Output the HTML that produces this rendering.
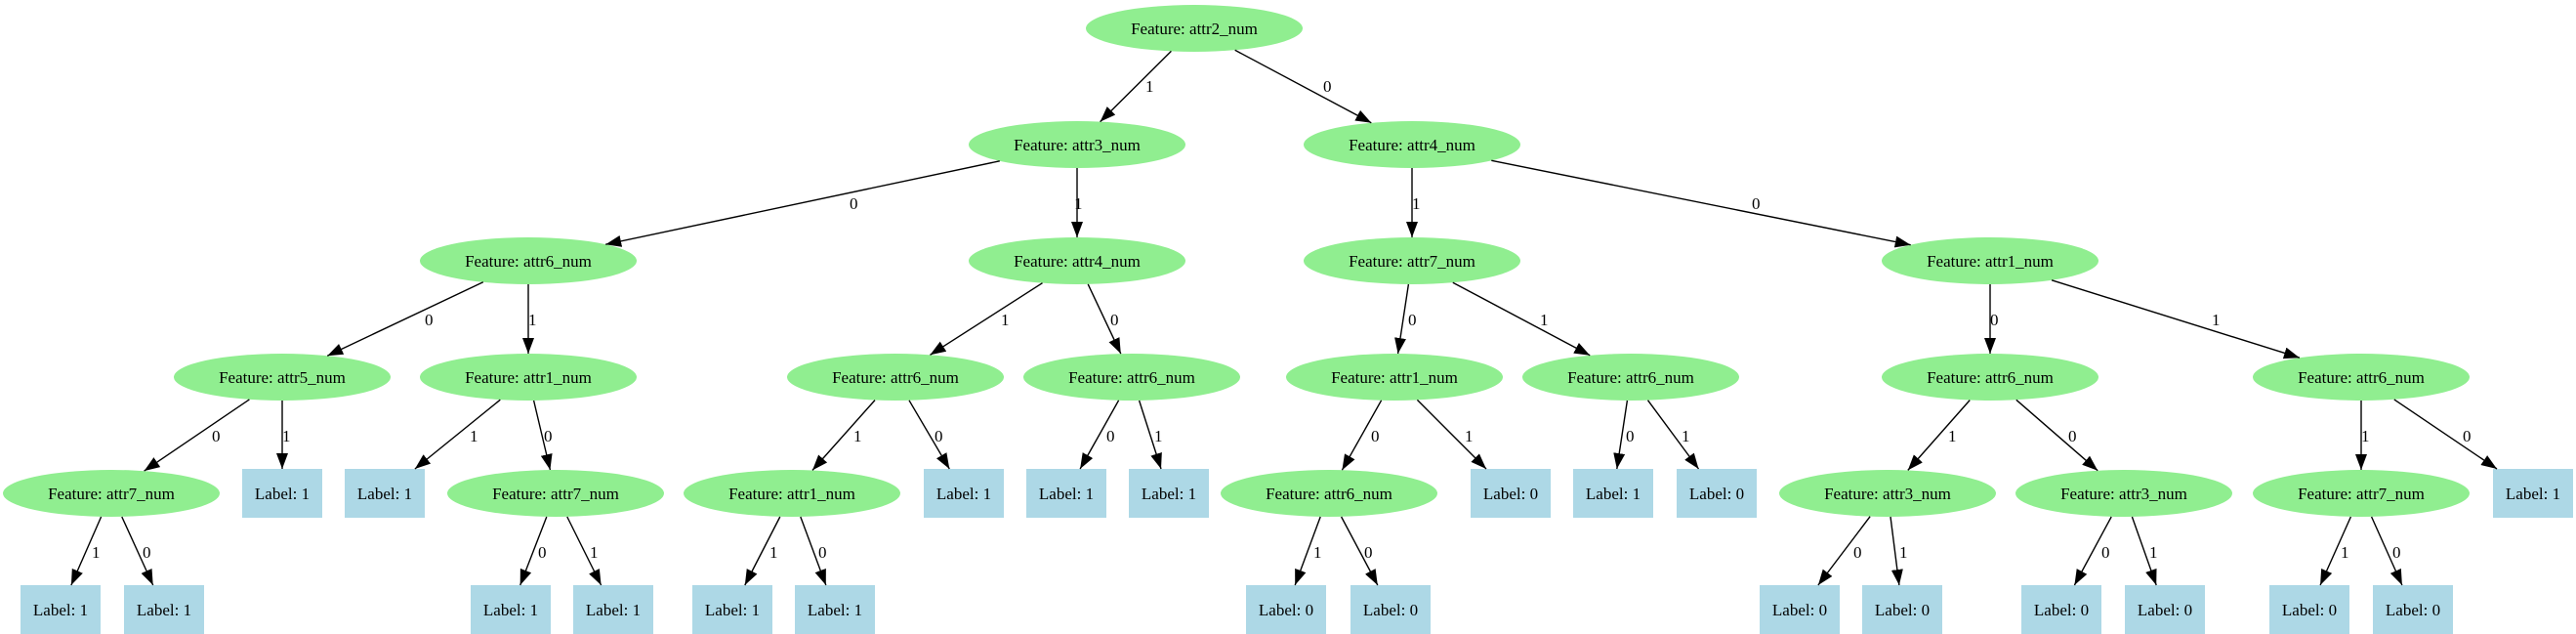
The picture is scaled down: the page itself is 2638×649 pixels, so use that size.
<!DOCTYPE html>
<html><head><meta charset="utf-8"><style>
html,body{margin:0;padding:0;background:#fff;}
svg{display:block;}
text{font-family:"Liberation Serif",serif;font-size:17px;fill:#000;}
.n text{text-anchor:middle;}
ellipse{fill:#90ee90;}
rect{fill:#add8e6;}
line{stroke:#000;stroke-width:1.4;marker-end:url(#a);}
</style></head><body>
<svg width="2638" height="649" viewBox="0 0 2638 649" xmlns="http://www.w3.org/2000/svg">
<defs><marker id="a" markerUnits="userSpaceOnUse" markerWidth="18" markerHeight="14" refX="16" refY="6" orient="auto"><path d="M0,0 L16,6 L0,12 Z" fill="#000"/></marker></defs>
<g class="n">
<ellipse cx="1223" cy="29" rx="111" ry="24"/><text x="1223" y="35">Feature: attr2_num</text>
<ellipse cx="1103" cy="148" rx="111" ry="24"/><text x="1103" y="154">Feature: attr3_num</text>
<ellipse cx="1446" cy="148" rx="111" ry="24"/><text x="1446" y="154">Feature: attr4_num</text>
<ellipse cx="541" cy="267" rx="111" ry="24"/><text x="541" y="273">Feature: attr6_num</text>
<ellipse cx="1103" cy="267" rx="111" ry="24"/><text x="1103" y="273">Feature: attr4_num</text>
<ellipse cx="1446" cy="267" rx="111" ry="24"/><text x="1446" y="273">Feature: attr7_num</text>
<ellipse cx="2038" cy="267" rx="111" ry="24"/><text x="2038" y="273">Feature: attr1_num</text>
<ellipse cx="289" cy="386" rx="111" ry="24"/><text x="289" y="392">Feature: attr5_num</text>
<ellipse cx="541" cy="386" rx="111" ry="24"/><text x="541" y="392">Feature: attr1_num</text>
<ellipse cx="917" cy="386" rx="111" ry="24"/><text x="917" y="392">Feature: attr6_num</text>
<ellipse cx="1159" cy="386" rx="111" ry="24"/><text x="1159" y="392">Feature: attr6_num</text>
<ellipse cx="1428" cy="386" rx="111" ry="24"/><text x="1428" y="392">Feature: attr1_num</text>
<ellipse cx="1670" cy="386" rx="111" ry="24"/><text x="1670" y="392">Feature: attr6_num</text>
<ellipse cx="2038" cy="386" rx="111" ry="24"/><text x="2038" y="392">Feature: attr6_num</text>
<ellipse cx="2418" cy="386" rx="111" ry="24"/><text x="2418" y="392">Feature: attr6_num</text>
<ellipse cx="114" cy="505" rx="111" ry="24"/><text x="114" y="511">Feature: attr7_num</text>
<rect x="248" y="480" width="82" height="50"/><text x="289" y="511">Label: 1</text>
<rect x="353" y="480" width="82" height="50"/><text x="394" y="511">Label: 1</text>
<ellipse cx="569" cy="505" rx="111" ry="24"/><text x="569" y="511">Feature: attr7_num</text>
<ellipse cx="811" cy="505" rx="111" ry="24"/><text x="811" y="511">Feature: attr1_num</text>
<rect x="946" y="480" width="82" height="50"/><text x="987" y="511">Label: 1</text>
<rect x="1051" y="480" width="82" height="50"/><text x="1092" y="511">Label: 1</text>
<rect x="1156" y="480" width="82" height="50"/><text x="1197" y="511">Label: 1</text>
<ellipse cx="1361" cy="505" rx="111" ry="24"/><text x="1361" y="511">Feature: attr6_num</text>
<rect x="1506" y="480" width="82" height="50"/><text x="1547" y="511">Label: 0</text>
<rect x="1611" y="480" width="82" height="50"/><text x="1652" y="511">Label: 1</text>
<rect x="1717" y="480" width="82" height="50"/><text x="1758" y="511">Label: 0</text>
<ellipse cx="1933" cy="505" rx="111" ry="24"/><text x="1933" y="511">Feature: attr3_num</text>
<ellipse cx="2175" cy="505" rx="111" ry="24"/><text x="2175" y="511">Feature: attr3_num</text>
<ellipse cx="2418" cy="505" rx="111" ry="24"/><text x="2418" y="511">Feature: attr7_num</text>
<rect x="2553" y="480" width="82" height="50"/><text x="2594" y="511">Label: 1</text>
<rect x="21" y="599" width="82" height="50"/><text x="62" y="630">Label: 1</text>
<rect x="127" y="599" width="82" height="50"/><text x="168" y="630">Label: 1</text>
<rect x="482" y="599" width="82" height="50"/><text x="523" y="630">Label: 1</text>
<rect x="587" y="599" width="82" height="50"/><text x="628" y="630">Label: 1</text>
<rect x="709" y="599" width="82" height="50"/><text x="750" y="630">Label: 1</text>
<rect x="814" y="599" width="82" height="50"/><text x="855" y="630">Label: 1</text>
<rect x="1276" y="599" width="82" height="50"/><text x="1317" y="630">Label: 0</text>
<rect x="1383" y="599" width="82" height="50"/><text x="1424" y="630">Label: 0</text>
<rect x="1802" y="599" width="82" height="50"/><text x="1843" y="630">Label: 0</text>
<rect x="1907" y="599" width="82" height="50"/><text x="1948" y="630">Label: 0</text>
<rect x="2070" y="599" width="82" height="50"/><text x="2111" y="630">Label: 0</text>
<rect x="2176" y="599" width="82" height="50"/><text x="2217" y="630">Label: 0</text>
<rect x="2324" y="599" width="82" height="50"/><text x="2365" y="630">Label: 0</text>
<rect x="2430" y="599" width="82" height="50"/><text x="2471" y="630">Label: 0</text>
</g>
<g>
<line x1="1199.4" y1="52.4" x2="1126.6" y2="124.6"/><text x="1173" y="94">1</text>
<line x1="1264.7" y1="51.3" x2="1404.3" y2="125.7"/><text x="1355" y="94">0</text>
<line x1="1023.8" y1="164.8" x2="620.2" y2="250.2"/><text x="870" y="214">0</text>
<line x1="1103" y1="172" x2="1103" y2="243"/><text x="1100" y="214">1</text>
<line x1="1446" y1="172" x2="1446" y2="243"/><text x="1446" y="214">1</text>
<line x1="1527.3" y1="164.3" x2="1956.7" y2="250.7"/><text x="1794" y="214">0</text>
<line x1="494.8" y1="288.8" x2="335.2" y2="364.2"/><text x="435" y="333">0</text>
<line x1="541" y1="291" x2="541" y2="362"/><text x="541" y="333">1</text>
<line x1="1067.5" y1="289.7" x2="952.5" y2="363.3"/><text x="1025" y="333">1</text>
<line x1="1114.2" y1="290.9" x2="1147.8" y2="362.1"/><text x="1137" y="333">0</text>
<line x1="1442.4" y1="291" x2="1431.6" y2="362"/><text x="1442" y="333">0</text>
<line x1="1487.8" y1="289.2" x2="1628.2" y2="363.8"/><text x="1577" y="333">1</text>
<line x1="2038" y1="291" x2="2038" y2="362"/><text x="2038" y="333">0</text>
<line x1="2101.1" y1="286.8" x2="2354.9" y2="366.2"/><text x="2265" y="333">1</text>
<line x1="255.4" y1="408.9" x2="147.6" y2="482.1"/><text x="217" y="452">0</text>
<line x1="289" y1="410" x2="289" y2="480"/><text x="289" y="452">1</text>
<line x1="512.3" y1="409.2" x2="424.9" y2="480"/><text x="481" y="452">1</text>
<line x1="546.6" y1="410" x2="563.4" y2="481"/><text x="557" y="452">0</text>
<line x1="896" y1="409.6" x2="832" y2="481.4"/><text x="874" y="452">1</text>
<line x1="931" y1="409.8" x2="972.3" y2="480"/><text x="957" y="452">0</text>
<line x1="1145.6" y1="409.8" x2="1106.1" y2="480"/><text x="1133" y="452">0</text>
<line x1="1166.6" y1="410" x2="1189" y2="480"/><text x="1182" y="452">1</text>
<line x1="1414.6" y1="409.8" x2="1374.4" y2="481.2"/><text x="1404" y="452">0</text>
<line x1="1451.4" y1="409.4" x2="1522" y2="480"/><text x="1500" y="452">1</text>
<line x1="1666.4" y1="410" x2="1655.8" y2="480"/><text x="1665" y="452">0</text>
<line x1="1687.5" y1="409.7" x2="1739.5" y2="480"/><text x="1722" y="452">1</text>
<line x1="2017.2" y1="409.6" x2="1953.8" y2="481.4"/><text x="1995" y="452">1</text>
<line x1="2064.8" y1="409.3" x2="2148.2" y2="481.7"/><text x="2118" y="452">0</text>
<line x1="2418" y1="410" x2="2418" y2="481"/><text x="2418" y="452">1</text>
<line x1="2451.8" y1="408.9" x2="2557" y2="480"/><text x="2522" y="452">0</text>
<line x1="103.6" y1="529" x2="72.9" y2="599"/><text x="94" y="571">1</text>
<line x1="124.8" y1="529" x2="156.7" y2="599"/><text x="146" y="571">0</text>
<line x1="559.8" y1="529" x2="532.7" y2="599"/><text x="551" y="571">0</text>
<line x1="580.8" y1="529" x2="615.6" y2="599"/><text x="604" y="571">1</text>
<line x1="798.8" y1="529" x2="762.8" y2="599"/><text x="788" y="571">1</text>
<line x1="819.8" y1="529" x2="845.8" y2="599"/><text x="838" y="571">0</text>
<line x1="1352.2" y1="529" x2="1326.2" y2="599"/><text x="1345" y="571">1</text>
<line x1="1373.6" y1="529" x2="1410.8" y2="599"/><text x="1397" y="571">0</text>
<line x1="1915.1" y1="528.7" x2="1861.9" y2="599"/><text x="1898" y="571">0</text>
<line x1="1936" y1="529" x2="1944.9" y2="599"/><text x="1945" y="571">1</text>
<line x1="2162.2" y1="529" x2="2124.4" y2="599"/><text x="2152" y="571">0</text>
<line x1="2183.4" y1="529" x2="2208.2" y2="599"/><text x="2201" y="571">1</text>
<line x1="2407.4" y1="529" x2="2376.1" y2="599"/><text x="2397" y="571">1</text>
<line x1="2428.6" y1="529" x2="2459.9" y2="599"/><text x="2450" y="571">0</text>
</g>
</svg>
</body></html>
